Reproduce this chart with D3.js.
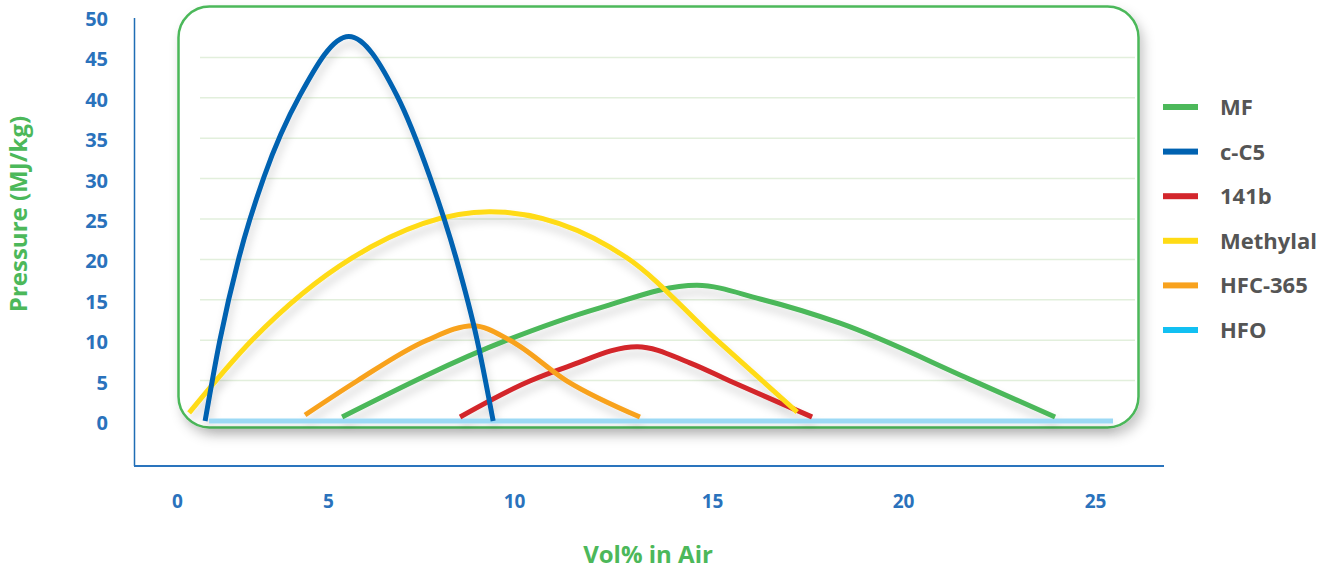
<!DOCTYPE html>
<html>
<head>
<meta charset="utf-8">
<script src="https://cdn.jsdelivr.net/npm/d3@7/dist/d3.min.js"></script>
<style>
  html, body { margin: 0; padding: 0; background: #ffffff; }
  svg { display: block; font-family: "Open Sans", sans-serif; }
</style>
</head>
<body>
<svg id="chart" width="1337" height="569"></svg>
<script>
// ---- data ----
const seriesNames = ["MF", "c-C5", "141b", "Methylal", "HFC-365", "HFO"];
const xTickValues = [0, 5, 10, 15, 20, 25];
const yTickValues = [0, 5, 10, 15, 20, 25, 30, 35, 40, 45, 50];
const gridValues = [5, 10, 15, 20, 25, 30, 35, 40, 45];

// [vol%, value] pairs
const mfData = [[5.38, 0.5], [9.81, 10.0], [12.17, 14.0], [14.62, 16.8], [16.26, 15.1], [18.35, 12.1], [21.82, 5.0], [23.96, 0.5]];
const cc5Data = [[0.93, 0], [1.42, 10.0], [2.05, 20.2], [2.88, 30.2], [4.07, 40.3], [5.56, 47.6], [6.85, 40.3], [7.74, 30.2], [8.44, 20.2], [9.01, 10.0], [9.44, 0]];
const r141bData = [[8.55, 0.5], [10.40, 4.95], [11.34, 6.7], [13.11, 9.2], [14.44, 7.2], [15.47, 4.95], [17.62, 0.5]];
const methylalData = [[0.40, 1.0], [2.48, 10.0], [5.65, 20.2], [9.35, 25.9], [12.85, 20.2], [15.13, 10.0], [17.23, 1.1]];
const hfc365Data = [[4.24, 0.74], [5.78, 4.95], [7.66, 10.0], [8.90, 11.8], [9.89, 10.0], [11.34, 4.95], [13.18, 0.5]];
const hfoData = [[1.06, 0], [25.47, 0]];

const seriesData = [mfData, cc5Data, r141bData, methylalData, hfc365Data, hfoData];
const legendColors = ["#4cb85a", "#0062b1", "#d3262c", "#ffdb15", "#f8a21e", "#12c0f2"];
const lineColors = ["#4cb85a", "#0062b1", "#d3262c", "#ffdb15", "#f8a21e", "#9cd9f5"];
const drawOrder = [5, 0, 2, 4, 3, 1];

// ---- layout ----
const svg = d3.select("#chart");
const x = d3.scaleLinear().domain(xTickValues).range([177, 328, 514, 712, 903, 1095]);
const y = d3.scaleLinear().domain([0, 50]).range([421, 17]);

const defs = svg.append("defs");
const f1 = defs.append("filter").attr("id", "boxShadow").attr("x", "-5%").attr("y", "-5%").attr("width", "110%").attr("height", "120%");
f1.append("feDropShadow").attr("dx", 4).attr("dy", 7).attr("stdDeviation", 6).attr("flood-color", "#000").attr("flood-opacity", 0.22);
const f2 = defs.append("filter").attr("id", "lineShadow").attr("x", "-10%").attr("y", "-10%").attr("width", "120%").attr("height", "130%");
f2.append("feDropShadow").attr("dx", 2).attr("dy", 7).attr("stdDeviation", 4).attr("flood-color", "#000").attr("flood-opacity", 0.16);

// axis lines
svg.append("line").attr("x1", 134.5).attr("x2", 134.5).attr("y1", 18).attr("y2", 466)
  .attr("stroke", "#1f6db5").attr("stroke-width", 1.5);
svg.append("line").attr("x1", 134).attr("x2", 1164).attr("y1", 466).attr("y2", 466)
  .attr("stroke", "#2a74bd").attr("stroke-width", 1.8);

// rounded box
svg.append("rect").attr("x", 178.5).attr("y", 6.5).attr("width", 960).attr("height", 421)
  .attr("rx", 31).attr("ry", 31)
  .attr("fill", "#ffffff").attr("stroke", "#4cb85a").attr("stroke-width", 2.5)
  .attr("filter", "url(#boxShadow)");

// gridlines
svg.append("g").selectAll("line").data(gridValues).join("line")
  .attr("x1", 200).attr("x2", 1135)
  .attr("y1", d => y(d)).attr("y2", d => y(d))
  .attr("stroke", "#e2efdc").attr("stroke-width", 1.5);

// curves
const line = d3.line().x(d => x(d[0])).y(d => y(d[1])).curve(d3.curveMonotoneX);
const curveG = svg.append("g").attr("filter", "url(#lineShadow)");
drawOrder.forEach(i => {
  curveG.append("path")
    .attr("d", line(seriesData[i]))
    .attr("fill", "none")
    .attr("stroke", lineColors[i])
    .attr("stroke-width", 5)
    .attr("stroke-linecap", "butt");
});

// y axis labels
const yAxis = svg.append("g").attr("transform", "translate(108,2)")
  .call(d3.axisLeft(y).tickValues(yTickValues).tickSize(0).tickPadding(0).tickFormat(d3.format("d")));
yAxis.select(".domain").remove();
yAxis.selectAll("text").attr("fill", "#2a72bc").attr("font-size", 20).attr("font-weight", 700)
  .attr("font-family", "'Open Sans', sans-serif");

// x axis labels
const xAxis = svg.append("g").attr("transform", "translate(0,494)")
  .call(d3.axisBottom(x).tickValues(xTickValues).tickSize(0).tickPadding(0).tickFormat(d3.format("d")));
xAxis.select(".domain").remove();
xAxis.selectAll("text").attr("fill", "#2a72bc").attr("font-size", 19).attr("font-weight", 700)
  .attr("font-family", "'Open Sans', sans-serif");

// axis titles
svg.append("text").attr("x", 648).attr("y", 563).attr("text-anchor", "middle")
  .attr("fill", "#4cb85a").attr("font-size", 24).attr("font-weight", 700).text("Vol% in Air");
svg.append("text").attr("transform", "translate(27,214) rotate(-90)").attr("text-anchor", "middle")
  .attr("fill", "#4cb85a").attr("font-size", 24).attr("font-weight", 700).text("Pressure (MJ/kg)");

// legend
const legend = svg.append("g").attr("transform", "translate(1163,107)");
const items = legend.selectAll("g").data(seriesNames).join("g")
  .attr("transform", (d, i) => `translate(0,${i * 44.6})`);
items.append("rect").attr("x", 0).attr("y", -3).attr("width", 35).attr("height", 6)
  .attr("fill", (d, i) => legendColors[i]);
items.append("text").attr("x", 57).attr("y", 0).attr("dy", "0.36em")
  .attr("fill", "#555555").attr("font-size", 22).attr("font-weight", 700).text(d => d);
</script>
</body>
</html>
